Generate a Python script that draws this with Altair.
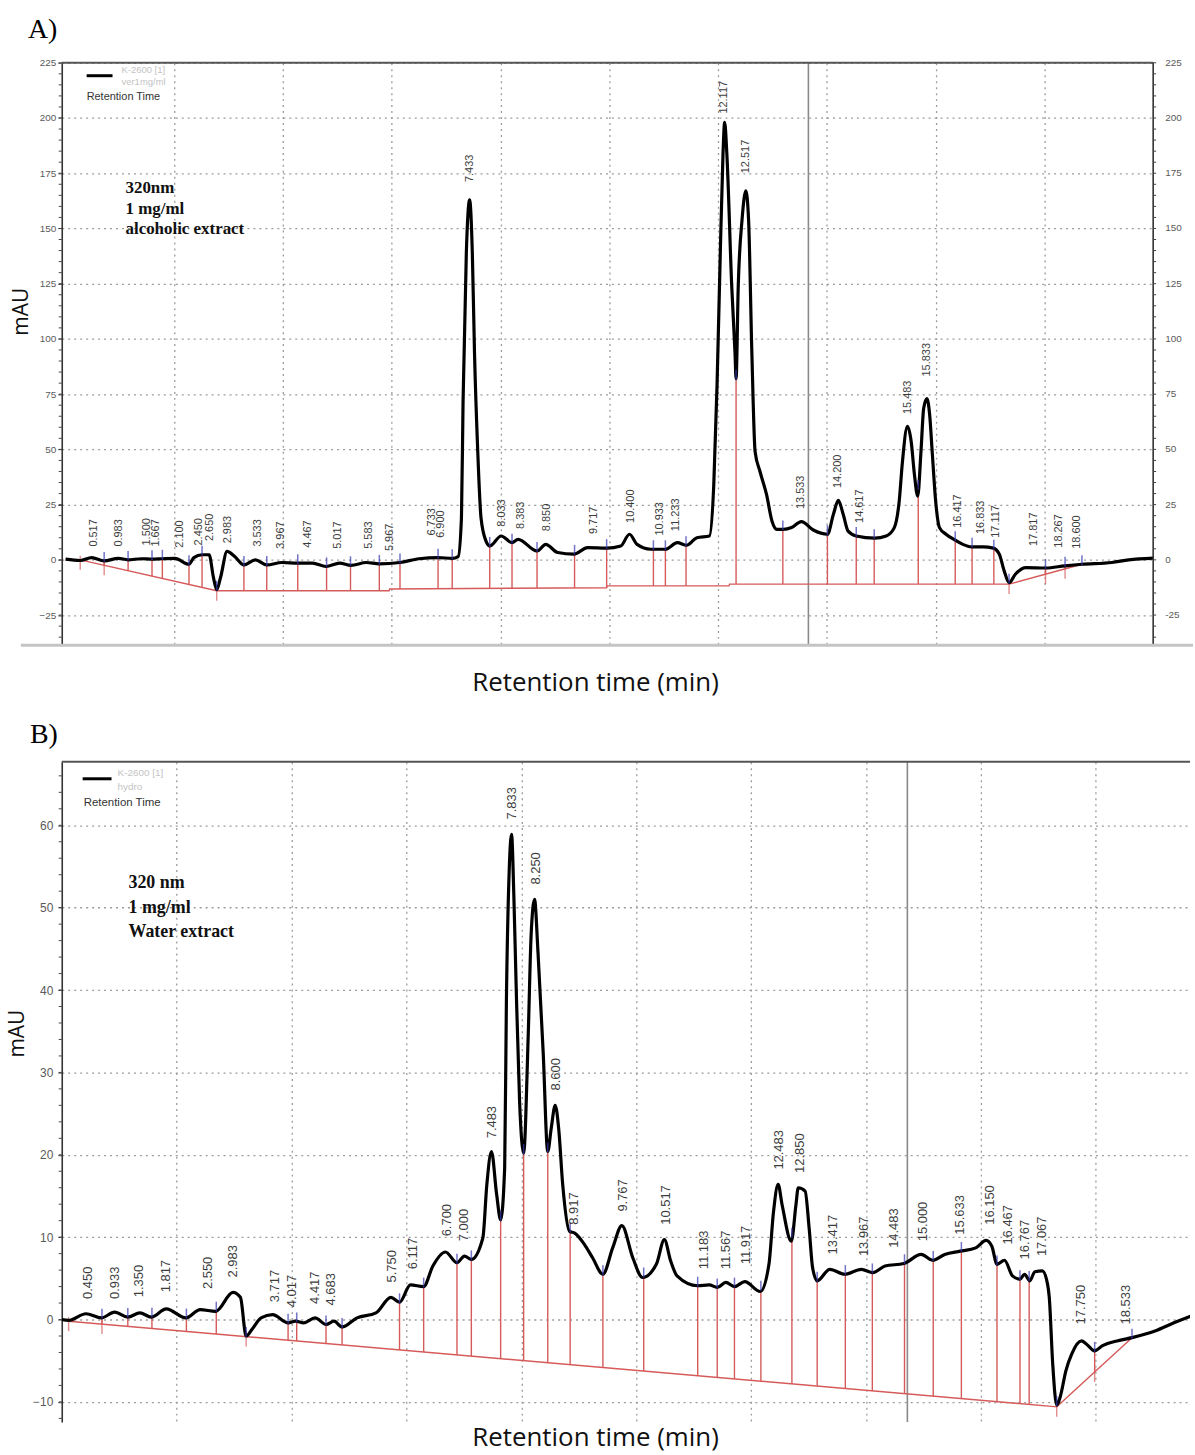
import altair as alt
import pandas as pd
import numpy as np

# ================= Panel A (alcoholic extract) =================
A_t = [0.0, 0.27, 0.48, 0.71, 0.97, 1.15, 1.39, 1.59, 1.78, 2.01, 2.27, 2.36, 2.51, 2.64, 2.72, 2.78,
       2.85, 2.97, 3.11, 3.28, 3.49, 3.70, 3.98, 4.27, 4.54, 4.79, 5.04, 5.25, 5.53, 5.77, 6.15, 6.50,
       6.85, 7.11, 7.22, 7.28, 7.31, 7.37, 7.43, 7.48, 7.52, 7.58, 7.64, 7.73, 7.80, 8.01, 8.21, 8.32,
       8.67, 8.83, 9.05, 9.35, 9.60, 9.95, 10.21, 10.37, 10.51, 10.76, 11.03, 11.25, 11.42, 11.61,
       11.84, 11.92, 11.98, 12.04, 12.09, 12.12, 12.16, 12.25, 12.31, 12.33, 12.37, 12.44, 12.51,
       12.56, 12.62, 12.68, 12.77, 12.89, 12.99, 13.08, 13.20, 13.35, 13.53, 13.75, 14.01, 14.12,
       14.21, 14.30, 14.39, 14.54, 14.88, 15.09, 15.24, 15.33, 15.39, 15.48, 15.55, 15.61, 15.67,
       15.73, 15.78, 15.84, 15.89, 15.94, 16.00, 16.07, 16.19, 16.36, 16.50, 16.66, 16.87, 17.06,
       17.17, 17.26, 17.35, 17.47, 17.66, 18.02, 18.38, 18.69, 19.24, 19.55, 20.0]
A_v = [0.3, -0.3, 1.0, -0.5, 0.7, 0.0, 0.5, 0.3, 0.5, 0.7, -2.0, 1.0, 2.3, 2.3, -8.0, -13.5,
       -8.0, 3.8, 1.5, -2.3, 0.0, -2.3, -1.2, -1.5, -1.5, -3.0, -1.5, -2.5, -1.2, -1.8, -1.2, 0.5,
       1.0, 0.7, 1.5, 19, 72, 139, 163, 139, 94, 49, 19, 8.6, 6.3, 10.8, 7.8, 9.3,
       4.0, 7.0, 3.3, 2.6, 5.5, 5.3, 6.3, 11.6, 7.0, 4.8, 4.8, 7.8, 6.6, 10.0,
       10.8, 34, 79, 139, 184, 198, 184, 124, 94, 82, 124, 154, 167,
       154, 94, 49, 40, 29.6, 17.6, 13.8, 13.8, 14.6, 17.3, 13.5, 11.6, 20.6,
       26.9, 20.6, 13.0, 10.8, 9.8, 10.8, 14.6, 26.6, 44.6, 60.4, 53.6, 38.6, 28.8,
       49, 68.6, 73, 65.6, 47.6, 26.6, 14.6, 11.6, 8.9, 7.0, 5.9, 5.9, 5.3,
       2.6, -5.0, -10.3, -6.4, -3.5, -3.7, -2.7, -2.0, -1.2, 0.0, 0.8]
A_base_t = [0.27, 2.78, 5.95, 5.96, 9.95, 9.96, 12.20, 12.21, 17.35, 18.69]
A_base_v = [0.0, -14.0, -14.0, -13.2, -12.6, -11.8, -11.8, -11.0, -11.0, -2.0]
A_drop_t = [0.71, 1.15, 1.59, 1.78, 2.27, 2.51, 3.28, 3.70, 4.27, 4.80, 5.24, 5.77, 6.15, 6.85,
            7.11, 7.80, 8.21, 8.67, 9.36, 9.95, 10.81, 11.03, 11.41, 12.33, 13.19, 14.01, 14.54,
            14.87, 15.68, 16.36, 16.67, 17.07, 18.02, 18.38]
A_redtick_t = [0.27, 0.71, 2.78, 17.35, 18.02, 18.38]
A_extra_blue_t = [2.78, 17.35, 18.69]
A_lab_s = ["0.517", "0.983", "1.500", "1.667", "2.100", "2.450", "2.650", "2.983", "3.533", "3.967",
           "4.467", "5.017", "5.583", "5.967", "6.733", "6.900", "7.433", "8.033", "8.383", "8.850",
           "9.717", "10.400", "10.933", "11.233", "12.117", "12.517", "13.533", "14.200", "14.617",
           "15.483", "15.833", "16.417", "16.833", "17.117", "17.817", "18.267", "18.600"]
A_lab_v = [6, 6, 6.5, 6, 5.5, 6.5, 8.5, 7.5, 6, 5, 5.5, 5, 5, 4, 11, 10, 171, 15, 14, 13,
           11.7, 16.7, 11, 13, 202, 175, 23, 32.5, 16.7, 66, 83, 14.5, 11.7, 10, 6.3, 5.5, 5]
A_yticks = [-25, 0, 25, 50, 75, 100, 125, 150, 175, 200, 225]
A_minor = list(range(-35, 226, 5))
A_cursor_t = [13.66]
A_xgrid = [2, 4, 6, 8, 10, 12, 14, 16, 18]

# ================= Panel B (water extract) =================
B_t = [0.0, 0.12, 0.42, 0.69, 0.92, 1.15, 1.36, 1.56, 1.82, 2.16, 2.41, 2.68, 2.98, 3.11, 3.21,
       3.31, 3.47, 3.67, 3.94, 4.07, 4.21, 4.41, 4.60, 4.74, 4.88, 5.14, 5.47, 5.73, 5.88, 6.07,
       6.30, 6.46, 6.68, 6.88, 7.01, 7.13, 7.33, 7.40, 7.48, 7.57, 7.64, 7.71, 7.74, 7.79, 7.83,
       7.87, 7.91, 7.97, 8.04, 8.12, 8.17, 8.23, 8.29, 8.38, 8.46, 8.52, 8.59, 8.65, 8.72, 8.84,
       8.93, 9.10, 9.24, 9.42, 9.59, 9.75, 9.94, 10.11, 10.35, 10.49, 10.60, 10.71, 11.07, 11.27,
       11.41, 11.56, 11.71, 11.89, 12.16, 12.31, 12.39, 12.47, 12.54, 12.70, 12.78, 12.82, 12.94,
       13.01, 13.07, 13.15, 13.37, 13.63, 13.92, 14.12, 14.33, 14.66, 14.96, 15.16, 15.37, 15.64,
       15.91, 16.09, 16.19, 16.28, 16.41, 16.55, 16.68, 16.76, 16.85, 16.94, 17.07, 17.16, 17.19,
       17.25, 17.32, 17.38, 17.48, 17.58, 17.75, 17.84, 17.98, 18.11, 18.37, 18.63, 19.03, 19.36,
       19.65]
B_v = [0.0, -0.1, 0.7, 0.2, 0.9, 0.3, 0.8, 0.3, 1.3, 0.2, 1.2, 1.0, 3.3, 2.7, -2.0,
       -1.2, 0.2, 0.6, -0.4, -0.2, -0.4, 0.2, -0.6, -0.2, -0.9, 0.2, 0.8, 2.7, 2.1, 4.2,
       4.0, 6.5, 8.2, 6.9, 7.7, 7.3, 9.9, 16.4, 20.4, 15.2, 12.1, 18.4, 38.5, 54.7, 58.9,
       51.4, 40.5, 26.4, 20.2, 34.5, 46.6, 51.0, 44.6, 32.5, 20.4, 23.2, 26.0, 23.2, 16.4, 10.7,
       10.5, 9.1, 7.5, 5.5, 8.7, 11.4, 7.5, 5.1, 6.7, 9.7, 7.1, 5.3, 4.1, 4.2,
       3.9, 4.5, 4.0, 4.6, 3.4, 6.7, 13.1, 16.4, 13.9, 9.5, 13.9, 16.0, 15.6,
       11.1, 6.3, 4.7, 6.1, 5.5, 6.1, 5.7, 6.5, 6.8, 7.9, 7.2, 7.9, 8.3,
       8.7, 9.6, 8.9, 6.7, 7.2, 5.3, 4.9, 5.5, 4.7, 5.8, 5.9, 4.3, 2.7,
       -5.4, -10.4, -9.4, -6.2, -4.2, -2.6, -3.0, -3.8, -3.2, -2.6, -2.2, -1.4, -0.4,
       0.4]
B_base_t = [0.12, 17.32, 18.63]
B_base_v = [-0.2, -10.6, -2.2]
B_drop_t = [0.70, 1.15, 1.57, 2.17, 2.69, 3.94, 4.09, 4.60, 4.88, 5.88, 6.30, 6.88, 7.13, 7.64,
            8.04, 8.46, 8.85, 9.42, 10.13, 11.07, 11.41, 11.71, 12.17, 12.71, 13.15, 13.64, 14.11,
            14.67, 15.17, 15.66, 16.28, 16.68, 16.84, 17.98]
B_redtick_t = [0.12, 0.70, 3.21, 17.32, 17.98]
B_extra_blue_t = [3.21, 17.32, 18.63]
B_lab_s = ["0.450", "0.933", "1.350", "1.817", "2.550", "2.983", "3.717", "4.017", "4.417", "4.683",
           "5.750", "6.117", "6.700", "7.000", "7.483", "7.833", "8.250", "8.600", "8.917", "9.767",
           "10.517", "11.183", "11.567", "11.917", "12.483", "12.850", "13.417", "13.967", "14.483",
           "15.000", "15.633", "16.150", "16.467", "16.767", "17.067", "17.750", "18.533"]
B_lab_v = [2.5, 2.5, 2.7, 3.3, 3.7, 5.1, 2.1, 1.5, 1.9, 1.7, 4.5, 6.1, 10.1, 9.5, 22, 60.7, 52.8,
           27.8, 11.5, 13.1, 11.5, 6.1, 6.1, 6.7, 18.2, 17.8, 7.9, 7.7, 8.7, 9.5, 10.3, 11.5, 9.1,
           7.3, 7.7, -0.6, -0.6]
B_yticks = [-10, 0, 10, 20, 30, 40, 50, 60]
B_minor = list(range(-12, 68, 2))
B_cursor_t = [14.72]
B_xgrid = [2, 4, 6, 8, 10, 12, 14, 16, 18]

RED = "#d65a5a"
BLUE = "#3838b0"
GRID = "#9c9c9c"
ONE = pd.DataFrame({"k": [0]})


def panel(tr_t, tr_v, bl_t, bl_v, drop_t, red_t, extra_blue, lab_s, lab_v, yticks, minor,
          cursor_t, xgrid, xdom, ydom, W, H, lab_size, axis_size, label_pad, right_axis,
          texts, bottom_line, anchor):
    xs = alt.Scale(domain=xdom, nice=False, zero=False)
    ys = alt.Scale(domain=ydom, nice=False, zero=False)
    xaxis = alt.Axis(values=xgrid, labels=False, ticks=False, title=None, domain=False,
                     grid=True, gridDash=[2, 4], gridColor=GRID, gridWidth=1.3, gridOpacity=1)
    yaxis = alt.Axis(values=yticks, title=None, grid=True, gridDash=[2, 4], gridColor=GRID,
                     gridWidth=1.3, gridOpacity=1, domain=True, domainColor="#333333",
                     domainWidth=1.6, tickColor="#444444", tickSize=4, labelFontSize=axis_size,
                     labelColor="#5a5a5a", labelFont="Liberation Sans", labelPadding=label_pad)

    def X(f):
        return alt.X(f, type="quantitative", scale=xs, axis=xaxis)

    def Y(f):
        return alt.Y(f, type="quantitative", scale=ys, axis=yaxis)

    trace = pd.DataFrame({"t": tr_t, "v": tr_v})
    base = pd.DataFrame({"t": bl_t, "v": bl_v})
    dt = np.array(drop_t)
    drops = pd.DataFrame({"t": dt, "v": np.interp(dt, tr_t, tr_v), "b": np.interp(dt, bl_t, bl_v)})
    bt = np.array(sorted(list(drop_t) + list(extra_blue)))
    blues = pd.DataFrame({"t": bt, "v": np.interp(bt, tr_t, tr_v)})
    rt = np.array(red_t)
    reds = pd.DataFrame({"t": rt, "v": np.interp(rt, bl_t, bl_v)})
    labs = pd.DataFrame({"t": [float(s) for s in lab_s], "v": lab_v, "s": lab_s})
    mins = pd.DataFrame({"v": [m for m in minor if ydom[0] <= m <= ydom[1]]})
    cur = pd.DataFrame({"t": cursor_t})

    layers = []
    layers.append(alt.Chart(cur).mark_rule(color="#8a8a8a", strokeWidth=1.6).encode(x=X("t")))
    layers.append(alt.Chart(mins).mark_rule(color="#444444", strokeWidth=1).encode(
        y=Y("v"), x=alt.value(-3), x2=alt.value(0)))
    layers.append(alt.Chart(base).mark_line(color=RED, strokeWidth=1.4, clip=True).encode(
        x=X("t"), y=Y("v")))
    layers.append(alt.Chart(drops).mark_rule(color=RED, strokeWidth=1.4).encode(
        x=X("t"), y=Y("v"), y2=alt.Y2("b")))
    layers.append(alt.Chart(reds).mark_tick(color=RED, orient="vertical", size=14, thickness=1.4,
                                            yOffset=3).encode(x=X("t"), y=Y("v")))
    layers.append(alt.Chart(trace).mark_line(color="black", strokeWidth=3.2, clip=True,
                                             interpolate="monotone",
                                             strokeJoin="round").encode(x=X("t"), y=Y("v")))
    layers.append(alt.Chart(blues).mark_tick(color=BLUE, orient="vertical", size=10, thickness=1.5,
                                             yOffset=-4).encode(x=X("t"), y=Y("v")))
    layers.append(alt.Chart(labs).mark_text(angle=270, align="left", baseline="middle",
                                            fontSize=lab_size, color="#3c3c3c",
                                            font="Liberation Sans").encode(
        x=X("t"), y=Y("v"), text="s:N"))
    # top border
    layers.append(alt.Chart(ONE).mark_rule(color="#555555", strokeWidth=2).encode(
        x=alt.value(0), x2=alt.value(W), y=alt.value(0)))
    if right_axis:
        layers.append(alt.Chart(ONE).mark_rule(color="#333333", strokeWidth=1.6).encode(
            x=alt.value(W), y=alt.value(0), y2=alt.value(H)))
        layers.append(alt.Chart(mins).mark_rule(color="#444444", strokeWidth=1).encode(
            y=Y("v"), x=alt.value(W), x2=alt.value(W + 3)))
        rl = pd.DataFrame({"v": yticks, "s": [str(v) for v in yticks]})
        layers.append(alt.Chart(rl).mark_text(align="left", baseline="middle", fontSize=axis_size,
                                              color="#5a5a5a", font="Liberation Sans").encode(
            x=alt.value(W + 12), y=Y("v"), text="s:N"))
    if bottom_line:
        layers.append(alt.Chart(ONE).mark_rule(color="#c4c4c4", strokeWidth=3).encode(
            x=alt.value(-41), x2=alt.value(W + 40), y=alt.value(H)))
    if anchor:
        layers.append(alt.Chart(ONE).mark_rule(strokeOpacity=0, opacity=0).encode(
            x=alt.value(anchor[0]), x2=alt.value(anchor[0]),
            y=alt.value(anchor[1]), y2=alt.value(anchor[1])))
    for tx in texts:
        props = dict(tx)
        x = props.pop("x")
        y = props.pop("y")
        txt = props.pop("text")
        layers.append(alt.Chart(ONE).mark_text(**props).encode(
            x=alt.value(x), y=alt.value(y), text=alt.value(txt)))
    return alt.layer(*layers).properties(width=W, height=H)


WA, HA = 1096, 585
WB, HB = 1133, 663

textsA = [
    dict(x=-34, y=-33, text="A)", font="Liberation Serif", fontSize=28, align="left",
         baseline="middle", color="black"),
    dict(x=-40, y=250, text="mAU", font="Open Sans", fontSize=21, angle=270, align="center",
         baseline="middle", color="#111111"),
    dict(x=536, y=623, text="Retention time (min)", font="Open Sans", fontSize=26,
         align="center", baseline="middle", color="#111111"),
    dict(x=64, y=126, text=["320nm", "1 mg/ml", "alcoholic extract"], font="Liberation Serif",
         fontSize=17, fontWeight="bold", lineHeight=20.5, align="left", baseline="middle",
         color="#111111"),
    dict(x=60, y=7, text="K-2600 [1]", font="Liberation Sans", fontSize=9.5, align="left",
         baseline="middle", color="#c4c4c4"),
    dict(x=60, y=19, text="ver1mg/ml", font="Liberation Sans", fontSize=9.5, align="left",
         baseline="middle", color="#c4c4c4"),
    dict(x=25, y=34, text="Retention Time", font="Liberation Sans", fontSize=11, align="left",
         baseline="middle", color="#333333"),
]
textsB = [
    dict(x=-32, y=-27, text="B)", font="Liberation Serif", fontSize=28, align="left",
         baseline="middle", color="black"),
    dict(x=-44, y=273, text="mAU", font="Open Sans", fontSize=21, angle=270, align="center",
         baseline="middle", color="#111111"),
    dict(x=536, y=679, text="Retention time (min)", font="Open Sans", fontSize=26,
         align="center", baseline="middle", color="#111111"),
    dict(x=67, y=122, text=["320 nm", "1 mg/ml", "Water extract"], font="Liberation Serif",
         fontSize=18, fontWeight="bold", lineHeight=24.5, align="left", baseline="middle",
         color="#111111"),
    dict(x=56, y=11, text="K-2600 [1]", font="Liberation Sans", fontSize=10, align="left",
         baseline="middle", color="#c4c4c4"),
    dict(x=56, y=25, text="hydro", font="Liberation Sans", fontSize=10, align="left",
         baseline="middle", color="#c4c4c4"),
    dict(x=22, y=41, text="Retention Time", font="Liberation Sans", fontSize=11.5, align="left",
         baseline="middle", color="#333333"),
]

legA = alt.Chart(ONE).mark_rule(color="black", strokeWidth=3).encode(
    x=alt.value(25), x2=alt.value(51), y=alt.value(13))
legB = alt.Chart(ONE).mark_rule(color="black", strokeWidth=3).encode(
    x=alt.value(21), x2=alt.value(50), y=alt.value(17))

pA = panel(A_t, A_v, A_base_t, A_base_v, A_drop_t, A_redtick_t, A_extra_blue_t, A_lab_s, A_lab_v,
           A_yticks, A_minor, A_cursor_t, A_xgrid, [-0.07, 20.0], [-38.7, 225], WA, HA,
           11, 10, 2, True, textsA, True, (-62, -60))
pB = panel(B_t, B_v, B_base_t, B_base_v, B_drop_t, B_redtick_t, B_extra_blue_t, B_lab_s, B_lab_v,
           B_yticks, B_minor, B_cursor_t, B_xgrid, [0.0, 19.64], [-12.45, 67.7], WB, HB,
           13, 12, 5, False, textsB, False, None)

pA = alt.layer(pA, legA).properties(width=WA, height=HA)
pB = alt.layer(pB, legB).properties(width=WB, height=HB)

chart = alt.vconcat(pA, pB, spacing=117, bounds="flush").properties(
    padding={"left": 0, "top": 0, "right": 0, "bottom": 0}, background="white"
).configure_view(stroke=None)

chart.save("out.html", embed_options={"renderer": "svg", "actions": False})
